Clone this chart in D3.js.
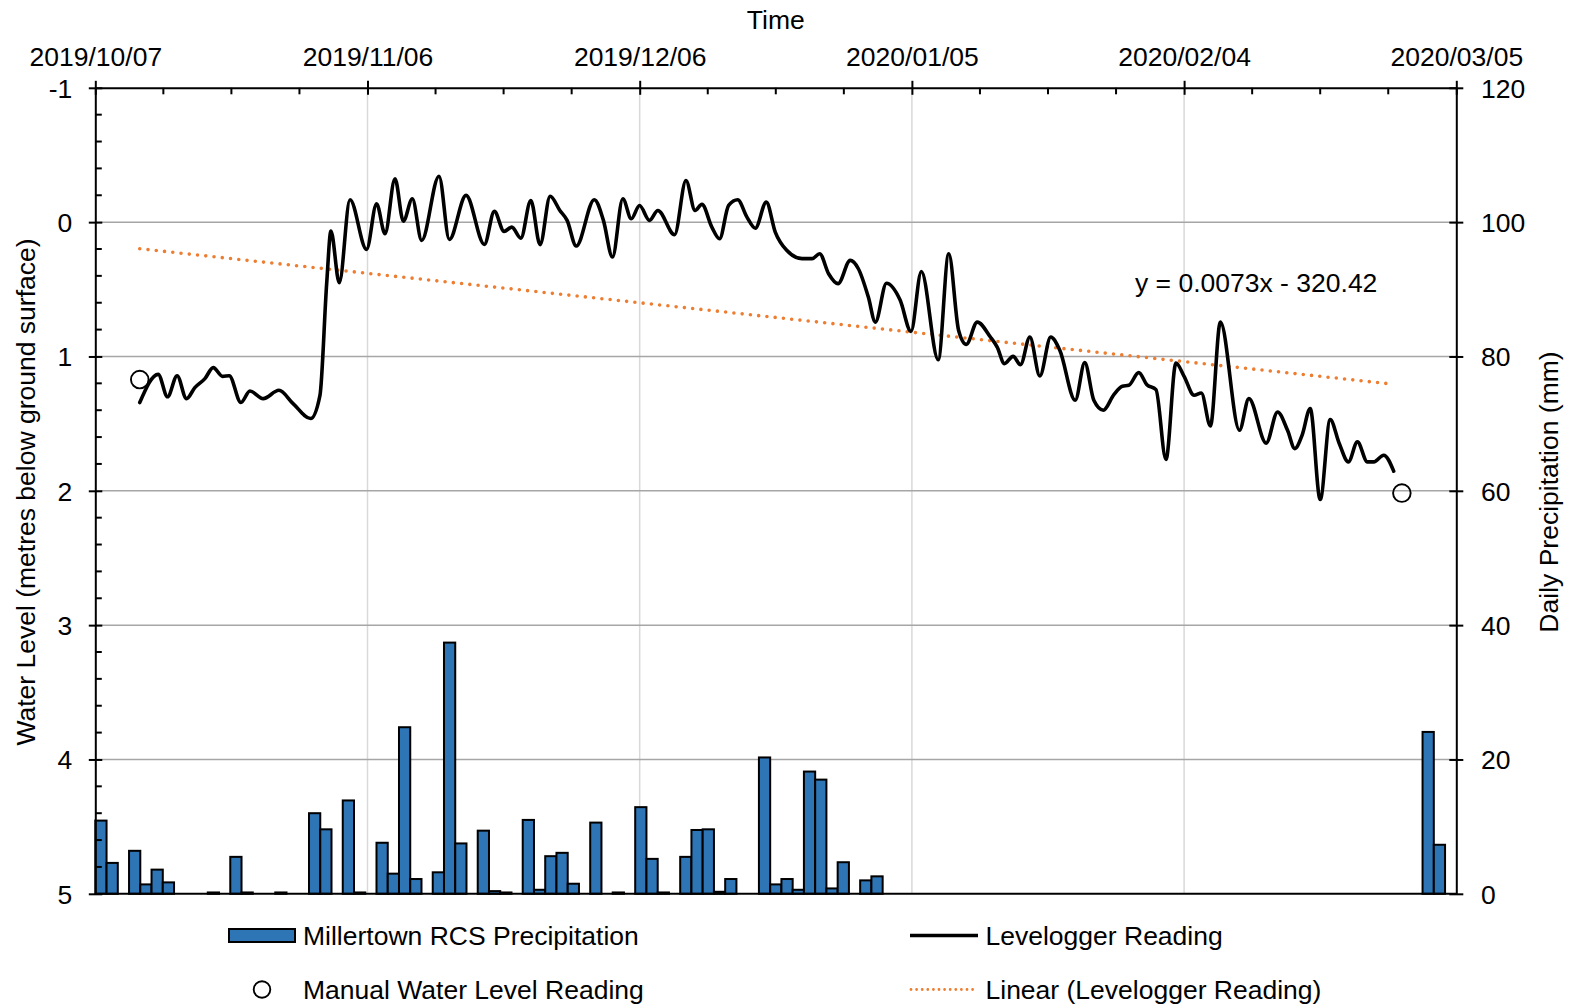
<!DOCTYPE html>
<html>
<head>
<meta charset="utf-8">
<script src="https://cdn.jsdelivr.net/npm/d3@7"></script>
<style>
  html, body { margin: 0; padding: 0; background: #fff; }
  svg text { font-family: "Liberation Sans", Arial, sans-serif; font-size: 26.5px; fill: #000; }
</style>
</head>
<body>
<svg id="chart" width="1574" height="1008"></svg>
<script>
// ---- data -------------------------------------------------------------
// Daily precipitation (mm), one entry per day starting 2019/10/07 (null = no record)
const precipStart = "2019-10-07";
const precipValues = [
  10.9, 4.6, null, 6.4, 1.4, 3.6, 1.7, null, null, null,
  0.2, null, 5.5, 0.2, null, null, 0.2, null, null, 12.0,
  9.6, null, 13.9, 0.2, null, 7.6, 3.0, 24.8, 2.2, null,
  3.2, 37.4, 7.5, null, 9.4, 0.4, 0.2, null, 11.0, 0.6,
  5.6, 6.1, 1.5, null, 10.6, null, 0.2, null, 12.9, 5.2,
  0.2, null, 5.5, 9.5, 9.6, 0.3, 2.2, null, null, 20.3,
  1.4, 2.2, 0.6, 18.2, 17.0, 0.8, 4.7, null, 2.0, 2.6,
  null, null, null, null, null, null, null, null, null, null,
  null, null, null, null, null, null, null, null, null, null,
  null, null, null, null, null, null, null, null, null, null,
  null, null, null, null, null, null, null, null, null, null,
  null, null, null, null, null, null, null, null, 24.1, 7.3,
  null
];

// Levelogger reading: days after 2019/10/07 and water level (m below ground surface)
const levelDays = [
  4.9, 6.93, 7.96, 9.02, 10.05, 10.97, 12.08, 13.0, 14.03, 14.76,
  16.05, 17.04, 18.5, 20.24, 21.8, 23.73, 24.76, 25.5, 25.97, 26.89,
  28.07, 29.9, 31.0, 31.93, 33.03, 33.95, 34.94, 35.97, 37.88, 39.02,
  40.86, 42.88, 43.98, 45.05, 45.9, 46.9, 48.0, 49.02, 50.13, 51.2,
  52.0, 53.0, 55.0, 56.0, 57.0, 58.14, 59.07, 59.98, 61.08, 62.0,
  63.84, 65.1, 66.1, 66.86, 67.95, 68.8, 69.8, 70.8, 71.82, 72.74,
  73.95, 74.94, 76.2, 77.9, 79.0, 79.83, 80.82, 81.86, 83.2, 84.1,
  85.2, 85.97, 87.2, 88.7, 89.9, 91.04, 92.9, 94.06, 95.15, 96.0,
  97.2, 98.65, 99.4, 100.2, 101.15, 101.97, 103.0, 104.1, 105.3, 106.3,
  108.0, 109.05, 110.05, 111.1, 112.26, 113.2, 113.9, 115.0, 115.9, 116.9,
  118.0, 119.1, 120.0, 121.1, 121.9, 122.9, 124.0, 126.1, 127.14, 129.05,
  130.3, 131.4, 132.2, 133.0, 133.9, 135.0, 136.1, 137.1, 138.1, 139.1,
  140.2, 140.9, 142.0, 143.1
];
const levelValues = [
  1.343, 1.133, 1.30, 1.143, 1.314, 1.232, 1.165, 1.083, 1.148, 1.143,
  1.343, 1.257, 1.314, 1.252, 1.351, 1.462, 1.289, 0.458, 0.067, 0.451,
  -0.167, 0.203, -0.137, 0.086, -0.323, -0.007, -0.174, 0.136, -0.342, 0.129,
  -0.199, 0.166, -0.08, 0.069, 0.037, 0.119, -0.161, 0.168, -0.193, -0.087,
  -0.013, 0.178, -0.167, -0.013, 0.26, -0.174, -0.025, -0.124, -0.013, -0.087,
  0.094, -0.31, -0.087, -0.132, 0.037, 0.124, -0.124, -0.167, -0.037, 0.045,
  -0.149, 0.074, 0.21, 0.272, 0.272, 0.235, 0.384, 0.458, 0.285, 0.347,
  0.558, 0.744, 0.455, 0.58, 0.813, 0.367, 1.024, 0.235, 0.806, 0.91,
  0.744, 0.855, 0.93, 1.053, 0.999, 1.061, 0.855, 1.145, 0.855, 0.954,
  1.326, 1.046, 1.326, 1.40, 1.284, 1.222, 1.215, 1.12, 1.21, 1.247,
  1.767, 1.049, 1.148, 1.289, 1.272, 1.517, 0.744, 1.549, 1.314, 1.645,
  1.413, 1.55, 1.686, 1.587, 1.388, 2.065, 1.47, 1.648, 1.785, 1.636,
  1.785, 1.785, 1.735, 1.854
];

// Manual water level readings
const manualDays = [4.9, 144.0];
const manualValues = [1.172, 2.017];

// Linear trend of the levelogger reading (end points)
const trendDays = [4.9, 143.1];
const trendValues = [0.198, 1.207];
const trendLabel = "y = 0.0073x - 320.42";

// Axis ticks
const timeTicks = ["2019-10-07", "2019-11-06", "2019-12-06", "2020-01-05", "2020-02-04", "2020-03-05"];
const levelTicks = [-1, 0, 1, 2, 3, 4, 5];
const precipTicks = [0, 20, 40, 60, 80, 100, 120];

// ---- layout -------------------------------------------------------------
const plot = { left: 95.3, right: 1456.3, top: 87.8, bottom: 893.8 };
const BLUE = "#2E75B6", ORANGE = "#ED7D31";
const plainNumber = d => String(d);

const svg = d3.select("#chart");
const parse = d3.utcParse("%Y-%m-%d");
const t0 = parse(timeTicks[0]);
const dayToDate = d => new Date(t0.getTime() + d * 864e5);

const x = d3.scaleUtc()
  .domain([t0, parse(timeTicks[timeTicks.length - 1])])
  .range([plot.left, plot.right]);
const yLevel = d3.scaleLinear().domain([-1, 5]).range([plot.top, plot.bottom]);
const yPrecip = d3.scaleLinear().domain([0, 120]).range([plot.bottom, plot.top]);

const pStart = parse(precipStart);
const precipDates = precipValues.map((_, i) => d3.utcDay.offset(pStart, i));
const xBand = d3.scaleBand().domain(precipDates).range([plot.left, plot.right]).padding(0);

// ---- gridlines ------------------------------------------------------------
const grid = svg.append("g");
grid.selectAll("line.v")
  .data(timeTicks.slice(1, -1).map(parse))
  .join("line")
  .attr("x1", d => x(d)).attr("x2", d => x(d))
  .attr("y1", plot.top).attr("y2", plot.bottom)
  .attr("stroke", "#D9D9D9").attr("stroke-width", 1.5);
grid.selectAll("line.h")
  .data(levelTicks.slice(1, -1))
  .join("line")
  .attr("x1", plot.left).attr("x2", plot.right)
  .attr("y1", d => yLevel(d)).attr("y2", d => yLevel(d))
  .attr("stroke", "#A6A6A6").attr("stroke-width", 1.5);

// ---- precipitation bars ---------------------------------------------------
svg.append("g")
  .selectAll("rect")
  .data(precipDates.map((d, i) => ({ date: d, v: precipValues[i] })).filter(d => d.v !== null))
  .join("rect")
  .attr("x", d => xBand(d.date))
  .attr("width", xBand.bandwidth())
  .attr("y", d => yPrecip(d.v))
  .attr("height", d => yPrecip(0) - yPrecip(d.v))
  .attr("fill", BLUE)
  .attr("stroke", "#000")
  .attr("stroke-width", 2);

// ---- trend line -----------------------------------------------------------
svg.append("path")
  .datum(trendDays.map((d, i) => [dayToDate(d), trendValues[i]]))
  .attr("d", d3.line().x(d => x(d[0])).y(d => yLevel(d[1])))
  .attr("fill", "none")
  .attr("stroke", ORANGE)
  .attr("stroke-width", 3.6)
  .attr("stroke-linecap", "round")
  .attr("stroke-dasharray", "0 8.3");

// ---- levelogger line ------------------------------------------------------
svg.append("path")
  .datum(levelDays.map((d, i) => [dayToDate(d), levelValues[i]]))
  .attr("d", d3.line().x(d => x(d[0])).y(d => yLevel(d[1])).curve(d3.curveMonotoneX))
  .attr("fill", "none")
  .attr("stroke", "#000")
  .attr("stroke-width", 3.6)
  .attr("stroke-linejoin", "round")
  .attr("stroke-linecap", "round");

// ---- manual readings ------------------------------------------------------
svg.append("g")
  .selectAll("circle")
  .data(manualDays.map((d, i) => [dayToDate(d), manualValues[i]]))
  .join("circle")
  .attr("cx", d => x(d[0]))
  .attr("cy", d => yLevel(d[1]))
  .attr("r", 8.8)
  .attr("fill", "none")
  .attr("stroke", "#000")
  .attr("stroke-width", 1.9);

// ---- axes -----------------------------------------------------------------
const axisStroke = 2;

// bottom frame line
svg.append("line")
  .attr("x1", plot.left).attr("x2", plot.right)
  .attr("y1", plot.bottom).attr("y2", plot.bottom)
  .attr("stroke", "#000").attr("stroke-width", axisStroke);

// top time axis
const topAxis = svg.append("g")
  .attr("transform", `translate(0,${plot.top})`)
  .call(d3.axisTop(x).tickValues(timeTicks.map(parse)).tickFormat(d3.utcFormat("%Y/%m/%d")).tickSizeOuter(0));
topAxis.select(".domain").attr("stroke-width", axisStroke);
topAxis.selectAll(".tick line").attr("y1", 7).attr("y2", -7).attr("stroke-width", axisStroke);
topAxis.selectAll(".tick text").attr("y", -21.6).attr("dy", 0);
topAxis.attr("font-size", null).attr("font-family", null);
// minor ticks every quarter interval
const timeMinor = [];
timeTicks.slice(0, -1).forEach((t, i) => {
  const a = parse(t).getTime(), b = parse(timeTicks[i + 1]).getTime();
  for (let k = 1; k < 4; k++) timeMinor.push(new Date(a + (b - a) * k / 4));
});
svg.append("g").selectAll("line")
  .data(timeMinor).join("line")
  .attr("x1", d => x(d)).attr("x2", d => x(d))
  .attr("y1", plot.top).attr("y2", plot.top + 6.5)
  .attr("stroke", "#000").attr("stroke-width", axisStroke);

// left water-level axis
const leftAxis = svg.append("g")
  .attr("transform", `translate(${plot.left},0)`)
  .call(d3.axisLeft(yLevel).tickValues(levelTicks).tickFormat(plainNumber).tickSizeOuter(0));
leftAxis.select(".domain").attr("stroke-width", axisStroke);
leftAxis.selectAll(".tick line").attr("x1", 7).attr("x2", -6.5).attr("stroke-width", axisStroke);
leftAxis.selectAll(".tick text").attr("x", -23).attr("dy", "0.355em");
leftAxis.attr("font-size", null).attr("font-family", null);
const levelMinor = d3.range(-1, 5.0001, 0.2).filter(v => Math.abs(v - Math.round(v)) > 1e-6);
svg.append("g").selectAll("line")
  .data(levelMinor).join("line")
  .attr("x1", plot.left).attr("x2", plot.left + 6.5)
  .attr("y1", d => yLevel(d)).attr("y2", d => yLevel(d))
  .attr("stroke", "#000").attr("stroke-width", axisStroke);

// right precipitation axis
const rightAxis = svg.append("g")
  .attr("transform", `translate(${plot.right},0)`)
  .call(d3.axisRight(yPrecip).tickValues(precipTicks).tickFormat(plainNumber).tickSizeOuter(0));
rightAxis.select(".domain").attr("stroke-width", axisStroke);
rightAxis.selectAll(".tick line").attr("x1", -7).attr("x2", 7).attr("stroke-width", axisStroke);
rightAxis.selectAll(".tick text").attr("x", 24.7).attr("dy", "0.355em");
rightAxis.attr("font-size", null).attr("font-family", null);

// ---- titles ---------------------------------------------------------------
svg.append("text")
  .attr("x", (plot.left + plot.right) / 2).attr("y", 29.3)
  .attr("text-anchor", "middle").text("Time");
svg.append("text")
  .attr("transform", "translate(34.5,492) rotate(-90)")
  .attr("text-anchor", "middle")
  .text("Water Level (metres below ground surface)");
svg.append("text")
  .attr("transform", "translate(1558,492) rotate(-90)")
  .attr("text-anchor", "middle")
  .text("Daily Precipitation (mm)");

// trend equation
svg.append("text").attr("x", 1135).attr("y", 292).text(trendLabel);

// ---- legend ---------------------------------------------------------------
const legend = svg.append("g");
const row1 = 935.5, row2 = 989.5;
legend.append("rect")
  .attr("x", 229).attr("y", row1 - 6.5).attr("width", 66).attr("height", 13)
  .attr("fill", BLUE).attr("stroke", "#000").attr("stroke-width", 2);
legend.append("text").attr("x", 303).attr("y", row1 + 9.5).text("Millertown RCS Precipitation");

legend.append("circle")
  .attr("cx", 262).attr("cy", row2).attr("r", 8.3)
  .attr("fill", "none").attr("stroke", "#000").attr("stroke-width", 1.9);
legend.append("text").attr("x", 303).attr("y", row2 + 9.5).text("Manual Water Level Reading");

legend.append("line")
  .attr("x1", 910).attr("x2", 978).attr("y1", row1).attr("y2", row1)
  .attr("stroke", "#000").attr("stroke-width", 3.6);
legend.append("text").attr("x", 985.5).attr("y", row1 + 9.5).text("Levelogger Reading");

legend.append("line")
  .attr("x1", 911).attr("x2", 978).attr("y1", row2).attr("y2", row2)
  .attr("stroke", ORANGE).attr("stroke-width", 2.8)
  .attr("stroke-linecap", "round").attr("stroke-dasharray", "0 5.6");
legend.append("text").attr("x", 985.5).attr("y", row2 + 9.5).text("Linear (Levelogger Reading)");
</script>
</body>
</html>
